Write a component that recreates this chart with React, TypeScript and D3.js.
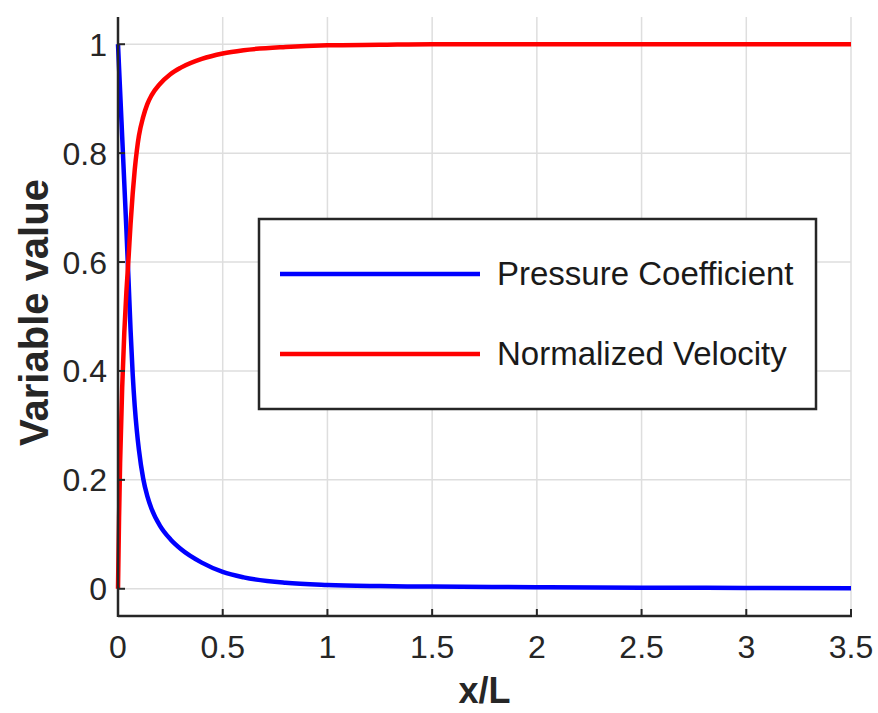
import React from "react";
import * as d3 from "d3";

const xValues = [0, 0.005, 0.01, 0.02, 0.03, 0.04, 0.05, 0.06, 0.07, 0.08, 0.09, 0.1, 0.12, 0.14, 0.16, 0.2, 0.25, 0.3, 0.4, 0.5, 0.6, 0.8, 1.0, 1.25, 1.5, 2.0, 2.5, 3.0, 3.5];
const pressureCoefficient = [1.0, 0.957, 0.915, 0.83, 0.745, 0.66, 0.57, 0.475, 0.395, 0.335, 0.29, 0.255, 0.203, 0.17, 0.147, 0.116, 0.091, 0.073, 0.048, 0.031, 0.021, 0.011, 0.007, 0.005, 0.004, 0.003, 0.002, 0.0015, 0.001];
const normalizedVelocity = [0.0, 0.13, 0.23, 0.37, 0.47, 0.545, 0.605, 0.67, 0.725, 0.77, 0.805, 0.832, 0.866, 0.89, 0.906, 0.927, 0.945, 0.957, 0.973, 0.983, 0.989, 0.995, 0.998, 0.999, 1.0, 1.0, 1.0, 1.0, 1.0];
const xTicks = [0, 0.5, 1, 1.5, 2, 2.5, 3, 3.5];
const xTickLabels = ["0", "0.5", "1", "1.5", "2", "2.5", "3", "3.5"];
const yTicks = [0, 0.2, 0.4, 0.6, 0.8, 1];
const yTickLabels = ["0", "0.2", "0.4", "0.6", "0.8", "1"];
const seriesNames = ["Pressure Coefficient", "Normalized Velocity"];
const seriesColors = ["#0000ff", "#ff0000"];

export default function App() {
  const W = 878, H = 713;
  const left = 118, right = 851, top = 17, bottom = 616;
  const x = d3.scaleLinear().domain([0, 3.5]).range([left, right]);
  const y = d3.scaleLinear().domain([-0.05, 1.05]).range([bottom, top]);
  const font = "'Liberation Sans', Arial, Helvetica, sans-serif";
  const axisColor = "#262626";

  const series = [pressureCoefficient, normalizedVelocity];
  const line = d3
    .line<number>()
    .x((_, i) => x(xValues[i]))
    .y((d) => y(d))
    .curve(d3.curveMonotoneX);

  return (
    <svg width={W} height={H} style={{ position: "absolute", left: 0, top: 0, background: "#fff" }} fontFamily={font}>
      {/* grid */}
      {xTicks.map((t) => (
        <line key={"gx" + t} x1={x(t)} x2={x(t)} y1={top} y2={bottom} stroke="#dedede" strokeWidth={1.5} />
      ))}
      {yTicks.map((t) => (
        <line key={"gy" + t} x1={left} x2={right} y1={y(t)} y2={y(t)} stroke="#dedede" strokeWidth={1.5} />
      ))}
      {/* data */}
      {series.map((s, i) => (
        <path key={"s" + i} d={line(s) || ""} fill="none" stroke={seriesColors[i]} strokeWidth={4.5} strokeLinejoin="round" />
      ))}
      {/* axes */}
      <line x1={left} x2={left} y1={top} y2={bottom + 1} stroke={axisColor} strokeWidth={2.5} />
      <line x1={left} x2={right + 1} y1={bottom} y2={bottom} stroke={axisColor} strokeWidth={2.5} />
      {xTicks.map((t, i) => (
        <g key={"xt" + t}>
          <line x1={x(t)} x2={x(t)} y1={bottom} y2={bottom - 7} stroke={axisColor} strokeWidth={2} />
          <text x={x(t)} y={658} textAnchor="middle" fontSize={32} fill="#262626">
            {xTickLabels[i]}
          </text>
        </g>
      ))}
      {yTicks.map((t, i) => (
        <g key={"yt" + t}>
          <line x1={left} x2={left + 7} y1={y(t)} y2={y(t)} stroke={axisColor} strokeWidth={2} />
          <text x={107} y={y(t) + 11.5} textAnchor="end" fontSize={32} fill="#262626">
            {yTickLabels[i]}
          </text>
        </g>
      ))}
      {/* axis labels */}
      <text x={(left + right) / 2} y={703} textAnchor="middle" fontSize={36} fontWeight="bold" fill="#262626">
        x/L
      </text>
      <text
        transform={`translate(48, ${(top + bottom) / 2 - 4}) rotate(-90)`}
        textAnchor="middle"
        fontSize={40}
        fontWeight="bold"
        fill="#262626"
      >
        Variable value
      </text>
      {/* legend */}
      <rect x={259} y={219} width={557} height={190} fill="#fff" stroke={axisColor} strokeWidth={2.5} />
      {seriesNames.map((n, i) => (
        <g key={"lg" + i}>
          <line x1={280} x2={480} y1={274 + i * 80} y2={274 + i * 80} stroke={seriesColors[i]} strokeWidth={4.5} />
          <text x={497} y={285 + i * 80} fontSize={33} fill="#1a1a1a">
            {n}
          </text>
        </g>
      ))}
    </svg>
  );
}
